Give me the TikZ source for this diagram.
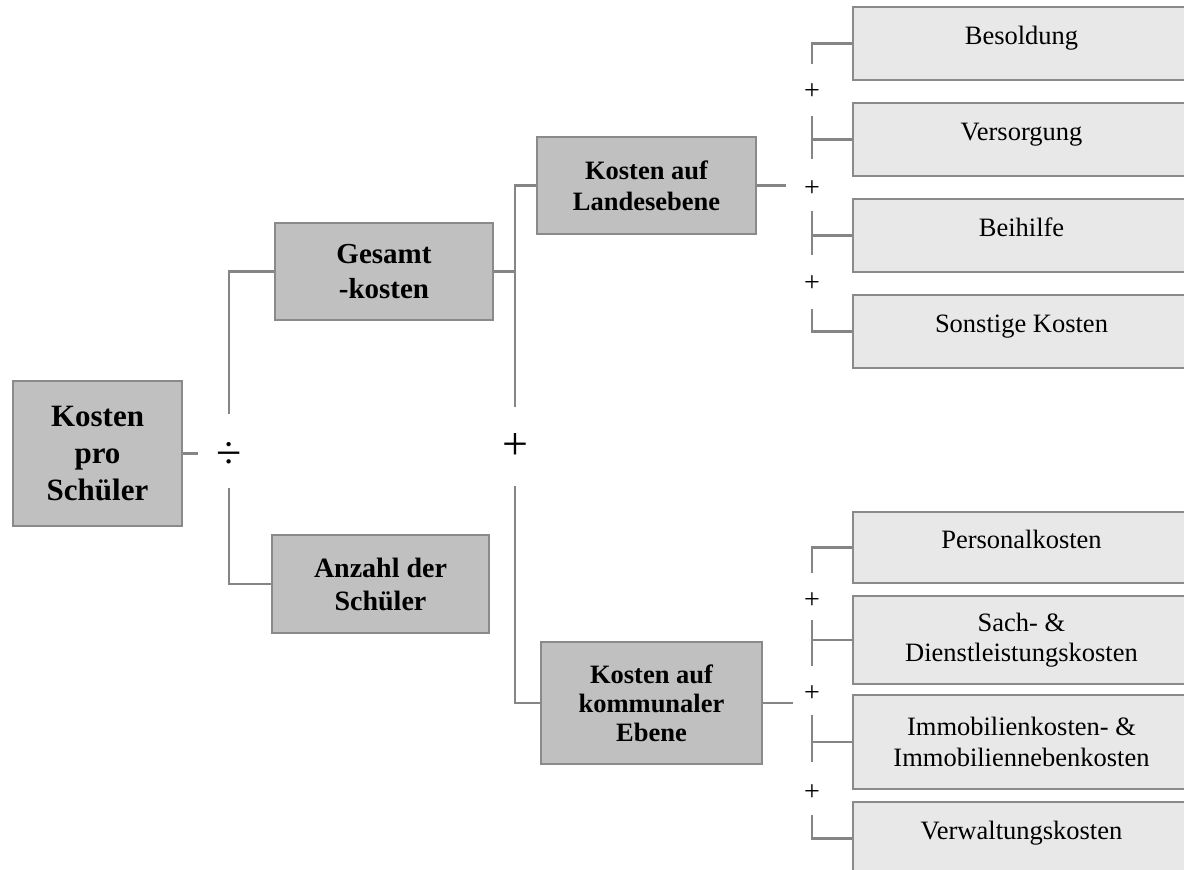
\documentclass[tikz,border=0pt]{standalone}
\usepackage{fontspec}
\setmainfont{Liberation Serif}
\definecolor{linegray}{HTML}{858585}
\definecolor{boxgray}{HTML}{8A8A8A}
\definecolor{maingray}{HTML}{C0C0C0}
\definecolor{leafgray}{HTML}{E8E8E8}
\tikzset{
  conn/.style={draw=linegray, line width=2.5pt},
  mainbox/.style={draw=boxgray, line width=2.5pt, fill=maingray, align=center, inner sep=0pt},
  leafbox/.style={draw=boxgray, line width=2.5pt, fill=leafgray, align=center, inner sep=0pt,
    minimum width=337pt, font=\fontsize{26.5}{30.5}\selectfont},
  oneline/.style={text height=20pt, text depth=19pt},
  bigop/.style={inner sep=0pt, font=\fontsize{46}{46}\selectfont},
  smallop/.style={inner sep=0pt, font=\fontsize{28}{28}\selectfont},
}
\begin{document}
\begin{tikzpicture}[x=1pt, y=-1pt]
\useasboundingbox (0,0) rectangle (1184,870);
\clip (0,0) rectangle (1184,870);

% main boxes
\node[mainbox, minimum width=169pt, minimum height=145pt, font=\fontsize{31}{37}\selectfont\bfseries]
  (root) at (97.5,453.5) {Kosten\\pro\\Schüler};
\node[mainbox, minimum width=218pt, minimum height=97pt, font=\fontsize{29}{35}\selectfont\bfseries]
  (gesamt) at (384,271.5) {Gesamt\\-kosten};
\node[mainbox, minimum width=217pt, minimum height=98pt, font=\fontsize{28}{33}\selectfont\bfseries]
  (anzahl) at (380.5,584) {Anzahl der\\Schüler};
\node[mainbox, minimum width=219pt, minimum height=97pt, font=\fontsize{26.5}{31}\selectfont\bfseries]
  (land) at (646.5,185.5) {Kosten auf\\Landesebene};
\node[mainbox, minimum width=221pt, minimum height=122pt, font=\fontsize{26.5}{29}\selectfont\bfseries]
  (komm) at (651.5,703) {Kosten auf\\kommunaler\\Ebene};

% leaf boxes
\node[leafbox, oneline, minimum height=73pt] (bes) at (1021.5,43.5) {Besoldung};
\node[leafbox, oneline, minimum height=73pt] (vers) at (1021.5,139.5) {Versorgung};
\node[leafbox, oneline, minimum height=73pt] (beih) at (1021.5,235.5) {Beihilfe};
\node[leafbox, oneline, minimum height=73pt] (sonst) at (1021.5,331.5) {Sonstige Kosten};
\node[leafbox, oneline, minimum height=71pt] (pers) at (1021.5,547.5) {Personalkosten};
\node[leafbox, minimum height=88pt] (sach) at (1021.5,640) {Sach- \&\\Dienstleistungskosten};
\node[leafbox, minimum height=94pt] (immo) at (1021.5,742) {Immobilienkosten- \&\\Immobiliennebenkosten};
\node[leafbox, oneline, minimum height=73pt] (verw) at (1021.5,838.5) {Verwaltungskosten};

% operators
\node[bigop] (div) at (229,455) {÷};
\node[bigop] (plus0) at (515,447) {+};
\node[smallop] (pa) at (812,92) {+};
\node[smallop] (pb) at (812,189) {+};
\node[smallop] (pc) at (812,284) {+};
\node[smallop] (qa) at (812,601) {+};
\node[smallop] (qb) at (812,694) {+};
\node[smallop] (qc) at (812,793) {+};

% free ends
\coordinate (dW) at (198,453.5);
\coordinate (dN) at (229,414);
\coordinate (dS) at (229,488);
\coordinate (pN) at (515,407);
\coordinate (pS) at (515,486);
\coordinate (lE) at (786,185.5);
\coordinate (kE) at (793,703);
\coordinate (b1) at (812,64);
\coordinate (v1) at (812,116);
\coordinate (v2) at (812,159);
\coordinate (h1) at (812,211);
\coordinate (h2) at (812,255);
\coordinate (s1) at (812,309);
\coordinate (r1) at (812,573);
\coordinate (c1) at (812,620);
\coordinate (c2) at (812,666);
\coordinate (m1) at (812,715);
\coordinate (m2) at (812,762);
\coordinate (w1) at (812,815);

% connectors
\draw[conn] (root.east) -- (dW);
\draw[conn] (dN) |- (gesamt.west);
\draw[conn] (dS) |- (anzahl.west);
\draw[conn] (gesamt.east) -- (gesamt.east -| plus0);
\draw[conn] (pN) |- (land.west);
\draw[conn] (pS) |- (komm.west);
\draw[conn] (land.east) -- (lE);
\draw[conn] (komm.east) -- (kE);

\draw[conn] (b1) |- (bes.west);
\draw[conn] (v1) -- (v2);
\draw[conn] (vers.west -| v1) -- (vers.west);
\draw[conn] (h1) -- (h2);
\draw[conn] (beih.west -| h1) -- (beih.west);
\draw[conn] (s1) |- (sonst.west);

\draw[conn] (r1) |- (pers.west);
\draw[conn] (c1) -- (c2);
\draw[conn] (sach.west -| c1) -- (sach.west);
\draw[conn] (m1) -- (m2);
\draw[conn] (immo.west -| m1) -- (immo.west);
\draw[conn] (w1) |- (verw.west);
\end{tikzpicture}
\end{document}
